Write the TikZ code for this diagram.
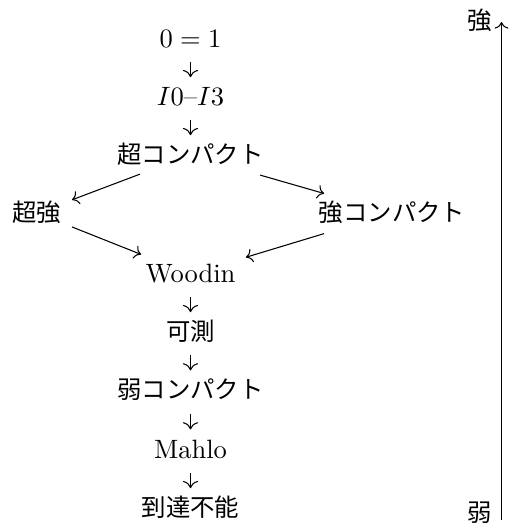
\documentclass[tikz,border=0pt]{standalone}
\usepackage{fontspec}
\newfontfamily\cjk[Scale=0.92]{Noto Sans CJK JP}
\usetikzlibrary{calc,arrows.meta}
\begin{document}
\begin{tikzpicture}[x=0.377pt,y=-0.377pt,
  lbl/.style={inner sep=0pt, text height=8pt, text depth=2pt, anchor=base},
  dn/.style={-{To[scale=1.1]}},
  diag/.style={->}]
\useasboundingbox (0,0) rectangle (512,524);
\node[lbl] (n01) at (190.5,47) {$0=1$};
\node[lbl] (ni) at (190.5,105) {$I0$--$I3$};
\node[lbl] (nsc) at (190.5,163) {\cjk 超コンパクト};
\node[lbl] (nss) at (37,221) {\cjk 超強};
\node[lbl] (nstc) at (392,221) {\cjk 強コンパクト};
\node[lbl] (nw) at (190.5,282) {Woodin};
\node[lbl] (nm) at (190.5,340) {\cjk 可測};
\node[lbl] (nwc) at (190.5,398.5) {\cjk 弱コンパクト};
\node[lbl] (nma) at (190.5,458) {Mahlo};
\node[lbl] (nin) at (190.5,516) {\cjk 到達不能};
\foreach \a/\b in {n01/ni, ni/nsc, nw/nm, nm/nwc, nwc/nma, nma/nin}
  \draw[dn] ($(\a.base)!0.256!(\b.base)$) -- ($(\a.base)!0.52!(\b.base)$);
\draw[diag] ($(nsc.center)!0.33!(nss.center)$) -- ($(nsc.center)!0.772!(nss.center)$);
\draw[diag] ($(nsc.center)!0.345!(nstc.center)$) -- ($(nsc.center)!0.663!(nstc.center)$);
\draw[diag] ($(nss.center)!0.228!(nw.center)$) -- ($(nss.center)!0.678!(nw.center)$);
\draw[diag] ($(nstc.center)!0.337!(nw.center)$) -- ($(nstc.center)!0.725!(nw.center)$);
\coordinate (axb) at (501.5,520);
\coordinate (axt) at (501.5,22);
\draw[->] (axb) -- (axt);
\node[lbl] (lstrong) at (480,29.5) {\cjk 強};
\node[lbl] (lweak) at (480,521) {\cjk 弱};
\end{tikzpicture}
\end{document}
